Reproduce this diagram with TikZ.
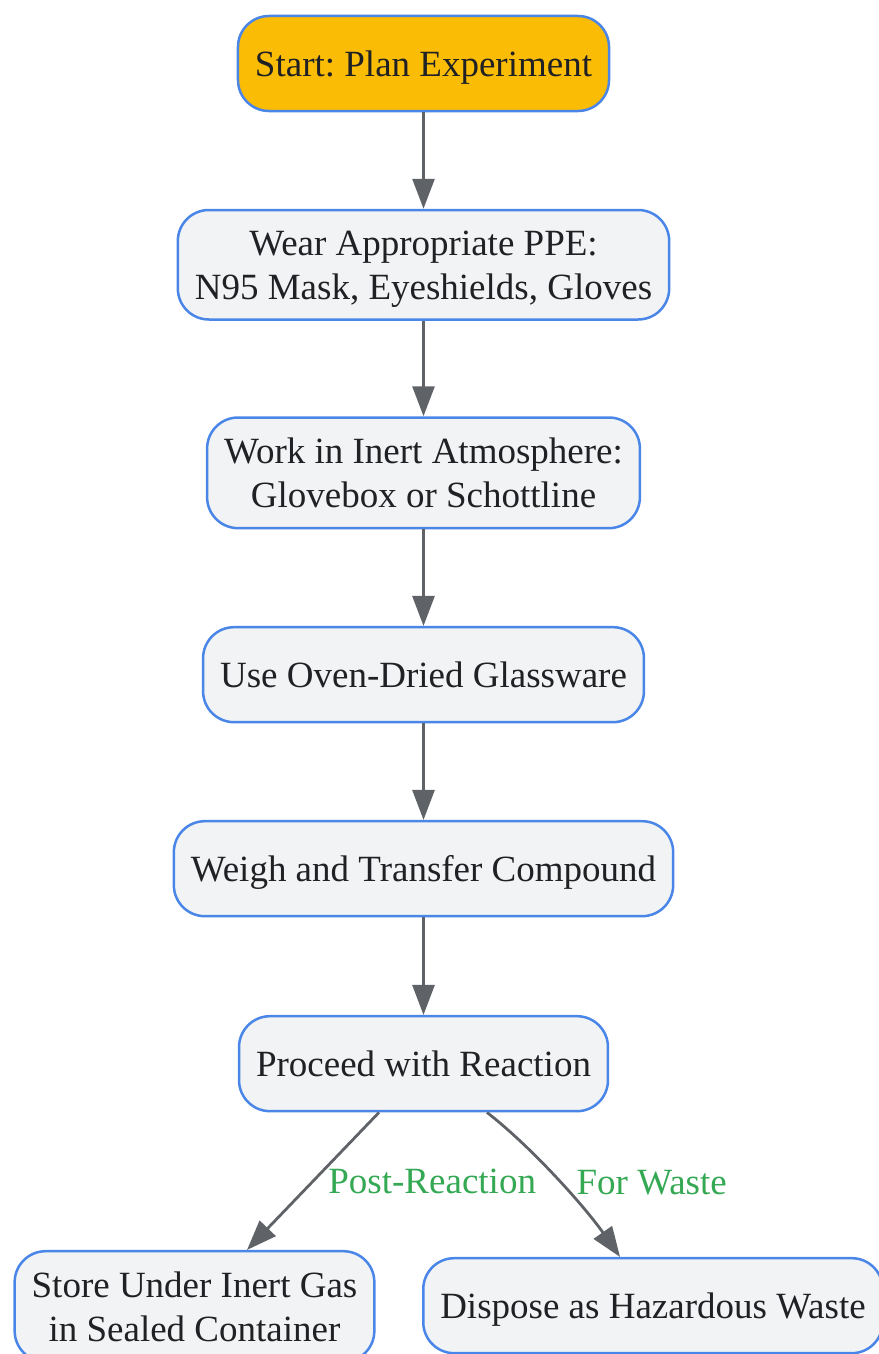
\documentclass[tikz,border=0pt]{standalone}
\usepackage{fontspec}
\setmainfont{Liberation Serif}
\usetikzlibrary{positioning, arrows.meta}
\definecolor{boxfill}{HTML}{F1F3F4}
\definecolor{boxline}{HTML}{4A86E8}
\definecolor{startfill}{HTML}{FBBC05}
\definecolor{edgegray}{HTML}{5F6368}
\definecolor{labelgreen}{HTML}{34A853}
\definecolor{ink}{HTML}{202124}
\frenchspacing

\begin{document}
\begin{tikzpicture}[x=1pt, y=-1pt,
    main/.style = {draw=boxline, line width=2.5pt, fill=boxfill, rounded corners=31pt,
        align=center, minimum height=95pt, inner xsep=17pt, inner ysep=20.5pt,
        text depth=0pt, text=ink, font=\fontsize{37}{44}\selectfont},
    go/.style = {draw=edgegray, line width=2.8pt,
        -{Triangle[length=30pt, width=22pt]}},
    edgelabel/.style = {text=labelgreen, font=\fontsize{37}{44}\selectfont, inner sep=0pt}]
    \useasboundingbox (0,0) rectangle (878,1354);

    \node[main, fill=startfill] (start) at (423.5,63.5) {Start: Plan Experiment};
    \node[main] (ppe) [below=96.5pt of start] {Wear Appropriate PPE:\\N95 Mask, Eyeshields, Gloves};
    \node[main] (inert) [below=95.5pt of ppe] {Work in Inert Atmosphere:\\Glovebox or Schottline};
    \node[main] (oven) [below=96.5pt of inert] {Use Oven-Dried Glassware};
    \node[main] (weigh) [below=96.5pt of oven] {Weigh and Transfer Compound};
    \node[main] (proceed) [below=97.5pt of weigh] {Proceed with Reaction};

    \node[main] (store) [below=137.5pt of proceed, xshift=-229pt] {Store Under Inert Gas\\in Sealed Container};
    \node[main] (dispose) [below=144.5pt of proceed, xshift=229.5pt] {Dispose as Hazardous Waste};

    \draw[go] (start) -- (ppe);
    \draw[go] (ppe) -- (inert);
    \draw[go] (inert) -- (oven);
    \draw[go] (oven) -- (weigh);
    \draw[go] (weigh) -- (proceed);

    \draw[go] ([xshift=-44.5pt]proceed.south) -- ([xshift=52.5pt]store.north)
        node[edgelabel, pos=0.5, anchor=west, xshift=14pt] {Post-Reaction};
    \draw[go] ([xshift=63.5pt]proceed.south) .. controls +(45,35) and +(-35,-50) .. ([xshift=-33pt]dispose.north)
        node[edgelabel, pos=0.5, anchor=west, xshift=18pt, yshift=-4pt] {For Waste};
\end{tikzpicture}
\end{document}
